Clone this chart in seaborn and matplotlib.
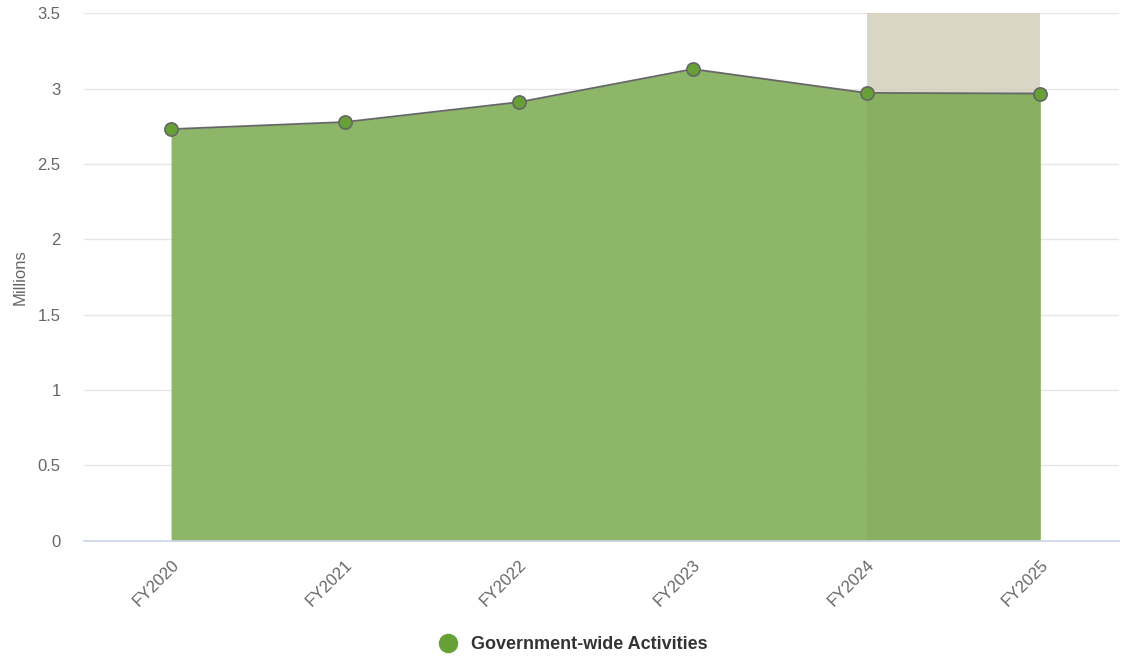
import matplotlib
matplotlib.use("Agg")
import matplotlib.pyplot as plt
from matplotlib.lines import Line2D
import seaborn as sns
import pandas as pd

# Données du graphique
years = ["FY2020", "FY2021", "FY2022", "FY2023", "FY2024", "FY2025"]
values = [2.731, 2.778, 2.910, 3.129, 2.971, 2.967]
series_name = "Government-wide Activities"

df = pd.DataFrame({"year": years, "value": values, "x": range(len(years))})

sns.set_style("white")
plt.rcParams["font.family"] = ["Liberation Sans", "DejaVu Sans"]

fig = plt.figure(figsize=(11.22, 6.58), dpi=100)
ax = fig.add_axes([0.075, 0.178, 0.922, 0.802])

# Zone grisée (projection) entre FY2024 et FY2025
ax.axvspan(4, 5, ymin=0, ymax=1, color="#d3cfbb", alpha=0.85, lw=0, zorder=1)

# Surface verte
ax.fill_between(df["x"], df["value"], 0, color="#7aaa4f", alpha=0.85, lw=0, zorder=2)

# Ligne + marqueurs
sns.lineplot(data=df, x="x", y="value", ax=ax, color="#666666", lw=1.3,
             marker="o", markersize=9.5, markerfacecolor="#66a036",
             markeredgecolor="#666666", markeredgewidth=1.2, zorder=4)

ax.set_xlim(-0.5, 5.45)
ax.set_ylim(0, 3.5)
ax.set_yticks([0, 0.5, 1, 1.5, 2, 2.5, 3, 3.5])
ax.set_yticklabels(["0", "0.5", "1", "1.5", "2", "2.5", "3", "3.5"])
ax.set_xticks(df["x"])
ax.set_xticklabels(years, rotation=45, ha="right", rotation_mode="anchor")

ax.grid(axis="y", color="#e6e6e6", lw=1)
ax.set_axisbelow(True)
for side in ["left", "right", "top"]:
    ax.spines[side].set_visible(False)
ax.spines["bottom"].set_color("#ccd6eb")
ax.spines["bottom"].set_linewidth(1.2)

ax.tick_params(axis="y", length=0, labelsize=12, labelcolor="#666666", pad=17)
ax.tick_params(axis="x", length=0, labelsize=12, labelcolor="#666666", pad=12)

ax.set_xlabel("")
ax.set_ylabel("Millions", fontsize=12, color="#666666", labelpad=7)

handle = Line2D([], [], marker="o", linestyle="none", markersize=13,
                markerfacecolor="#66a036", markeredgecolor="#66a036")
fig.legend([handle], [series_name], loc="center", bbox_to_anchor=(0.507, 0.02),
           frameon=False, prop={"weight": "bold", "size": 13}, handletextpad=0.3,
           labelcolor="#333333")

fig.savefig("out.png", dpi=100)
